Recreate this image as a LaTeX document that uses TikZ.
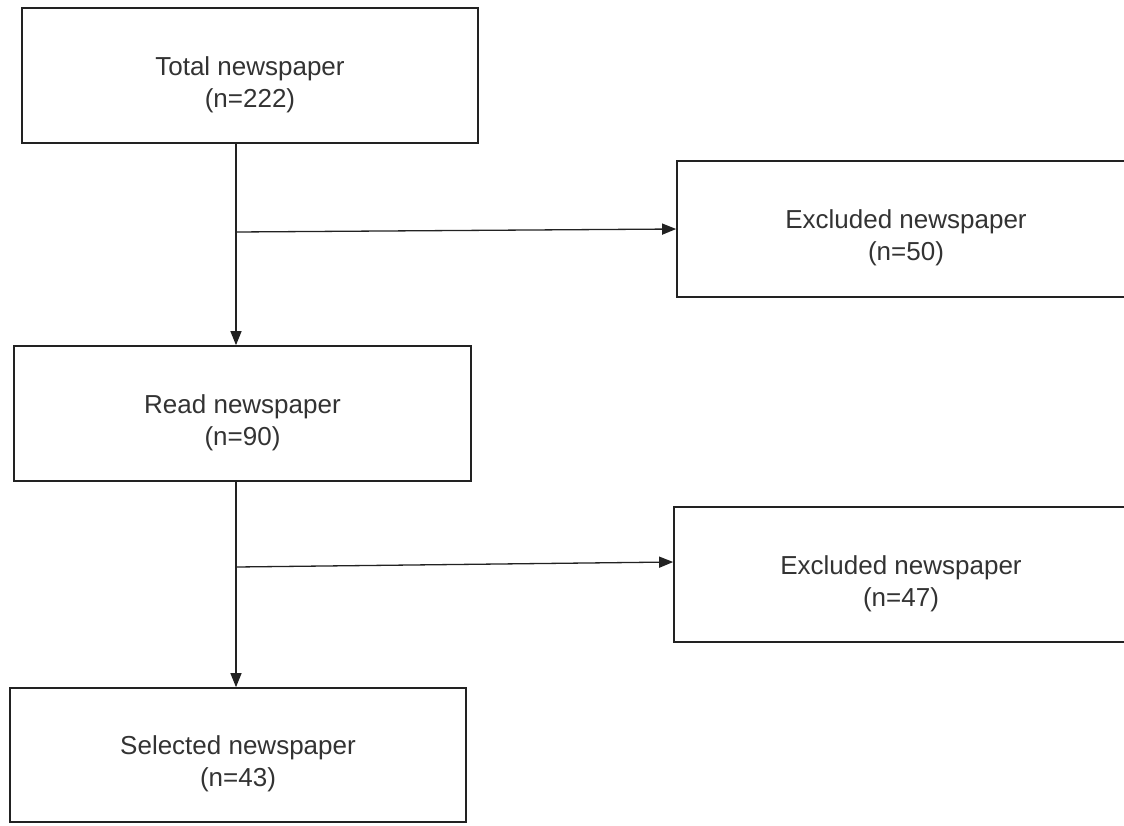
\documentclass[tikz,border=0pt]{standalone}
\usepackage{fontspec}
\setmainfont{Liberation Sans}
\usetikzlibrary{arrows.meta,calc}
\definecolor{edgecol}{HTML}{222222}
\definecolor{txtcol}{HTML}{333333}
\begin{document}
\begin{tikzpicture}[x=1pt,y=-1pt,
  box/.style={draw=edgecol, line width=1.7pt, minimum width=#1, minimum height=135pt, inner sep=0pt, anchor=center},
  lab/.style={align=center, text=txtcol, font=\fontsize{26}{32}\selectfont, yshift=-9pt},
  conn/.style={draw=edgecol, line width=1.3pt, -{Triangle[length=14pt,width=11pt]}}]
\useasboundingbox[fill=white] (0,0) rectangle (1124,825);
\node[box=456pt, label={[lab]center:{Total newspaper\\(n=222)}}] (b1) at (250,75.5) {};
\node[box=458pt, minimum height=136pt, label={[lab]center:{Excluded newspaper\\(n=50)}}] (b2) at (906,229) {};
\node[box=457pt, label={[lab]center:{Read newspaper\\(n=90)}}] (b3) at (242.5,413.5) {};
\node[box=454pt, label={[lab]center:{Excluded newspaper\\(n=47)}}] (b4) at (901,574.5) {};
\node[box=456pt, minimum height=134pt, label={[lab]center:{Selected newspaper\\(n=43)}}] (b5) at (238,755) {};
\coordinate (j1) at (236,232);
\coordinate (j2) at (236,567);
\draw[conn] (b1.south -| j1) -- (b3.north -| j1);
\draw[conn] (j1) -- (b2.west);
\draw[conn] (b3.south -| j2) -- (b5.north -| j2);
\draw[conn] (j2) -- ([yshift=12.5pt]b4.west);
\end{tikzpicture}
\end{document}
